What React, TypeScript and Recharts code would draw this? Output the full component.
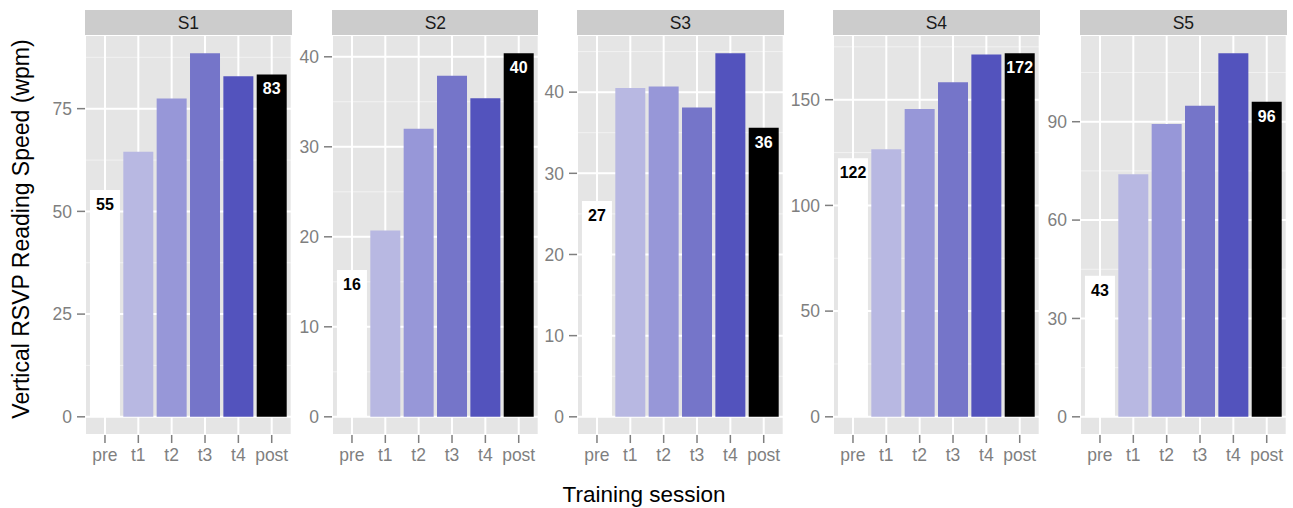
import React from 'react';
import { BarChart, Bar, XAxis, YAxis, CartesianGrid, Cell, LabelList } from 'recharts';

const categories = ['pre', 't1', 't2', 't3', 't4', 'post'];
const subjects = ['S1', 'S2', 'S3', 'S4', 'S5'];

const s1Values = [55.2, 64.5, 77.5, 88.5, 82.9, 83.3];
const s2Values = [16.3, 20.7, 32.0, 37.9, 35.4, 40.4];
const s3Values = [26.6, 40.5, 40.7, 38.1, 44.8, 35.6];
const s4Values = [122.3, 126.6, 145.6, 158.2, 171.4, 172.0];
const s5Values = [43.0, 74.0, 89.3, 94.9, 110.9, 96.1];

const s1Ticks = [0, 25, 50, 75];
const s2Ticks = [0, 10, 20, 30, 40];
const s3Ticks = [0, 10, 20, 30, 40];
const s4Ticks = [0, 50, 100, 150];
const s5Ticks = [0, 30, 60, 90];

const barColors = ['#FFFFFF', '#B8B8E2', '#9797D8', '#7575C9', '#5353BD', '#000000'];

const panelValues = [s1Values, s2Values, s3Values, s4Values, s5Values];
const panelTicks = [s1Ticks, s2Ticks, s3Ticks, s4Ticks, s5Ticks];

// layout
const PANEL_LEFTS = [85, 331.7, 577.3, 833.3, 1080];
const PANEL_W = 206.7;
const PLOT_TOP = 35;
const PLOT_H = 400;
const STRIP_H = 25;
const AXIS_W = 60;
const XAXIS_H = 40;
const FONT = '"Liberation Sans", Arial, Helvetica, sans-serif';

function buildRows(values: number[]) {
  return categories.map((c, i) => ({
    cat: c,
    value: values[i],
    darkLabel: c === 'pre' ? Math.round(values[i]) : undefined,
    lightLabel: c === 'post' ? Math.round(values[i]) : undefined,
  }));
}

function minorTicks(ticks: number[], max: number) {
  const step = ticks[1] - ticks[0];
  const out: number[] = [];
  for (const t of ticks) {
    const m = t + step / 2;
    if (m <= max) out.push(m);
  }
  return out;
}

function Panel({ index }: { index: number }) {
  const values = panelValues[index];
  const ticks = panelTicks[index];
  const rows = buildRows(values);
  const max = Math.max(...values);
  const domain: [number, number] = [-0.05 * max, 1.05 * max];
  const minor = minorTicks(ticks, domain[1]);
  const left = PANEL_LEFTS[index];
  return (
    <>
      <div
        style={{
          position: 'absolute',
          left,
          top: PLOT_TOP - STRIP_H,
          width: PANEL_W,
          height: STRIP_H,
          background: '#CCCCCC',
        }}
      >
        <svg width={PANEL_W} height={STRIP_H} style={{ display: 'block' }}>
          <text x={PANEL_W / 2} y={19.3} textAnchor="middle" fontSize={17.5} fill="#1A1A1A" fontFamily={FONT}>
            {subjects[index]}
          </text>
        </svg>
      </div>
      <div style={{ position: 'absolute', left: left - AXIS_W, top: PLOT_TOP }}>
        <BarChart
          width={AXIS_W + PANEL_W}
          height={PLOT_H + XAXIS_H}
          data={rows}
          margin={{ top: 0, right: 0, bottom: 0, left: 0 }}
          barCategoryGap="5%"
        >
          <CartesianGrid
            fill="#E5E5E5"
            fillOpacity={1}
            stroke="#F2F2F2"
            strokeWidth={1}
            vertical={false}
            horizontalValues={minor}
          />
          <CartesianGrid stroke="#FFFFFF" strokeWidth={2} />
          <XAxis
            dataKey="cat"
            type="category"
            interval={0}
            padding={{ left: 3.3, right: 3.3 }}
            height={XAXIS_H}
            tickSize={8}
            tickMargin={6}
            axisLine={false}
            tickLine={{ stroke: '#7F7F7F', strokeWidth: 1.5 }}
            tick={{ fill: '#7F7F7F', fontSize: 17.5, fontFamily: FONT }}
          />
          <YAxis
            type="number"
            domain={domain}
            allowDataOverflow
            ticks={ticks}
            interval={0}
            width={AXIS_W}
            tickSize={8}
            tickMargin={5}
            axisLine={false}
            tickLine={{ stroke: '#7F7F7F', strokeWidth: 1.5 }}
            tick={{ fill: '#7F7F7F', fontSize: 17.5, fontFamily: FONT }}
          />
          <Bar dataKey="value" isAnimationActive={false}>
            {rows.map((r, i) => (
              <Cell key={r.cat} fill={barColors[i]} />
            ))}
            <LabelList
              dataKey="darkLabel"
              position="insideTop"
              offset={8.5}
              fill="#000000"
              fontSize={16}
              fontWeight="bold"
              fontFamily={FONT}
            />
            <LabelList
              dataKey="lightLabel"
              position="insideTop"
              offset={8.5}
              fill="#FFFFFF"
              fontSize={16}
              fontWeight="bold"
              fontFamily={FONT}
            />
          </Bar>
        </BarChart>
      </div>
    </>
  );
}

export default function App() {
  return (
    <div
      style={{
        position: 'absolute',
        left: 0,
        top: 0,
        width: 1293,
        height: 508,
        background: '#FFFFFF',
        fontFamily: FONT,
        overflow: 'hidden',
      }}
    >
      <svg width={1293} height={508} style={{ position: 'absolute', left: 0, top: 0 }}>
        <text
          transform="rotate(-90)"
          x={-229}
          y={29}
          textAnchor="middle"
          fontSize={23}
          fill="#000000"
          fontFamily={FONT}
        >
          Vertical RSVP Reading Speed (wpm)
        </text>
        <text x={644} y={501.5} textAnchor="middle" fontSize={22.5} fill="#000000" fontFamily={FONT}>
          Training session
        </text>
      </svg>
      {subjects.map((s, i) => (
        <Panel key={s} index={i} />
      ))}
    </div>
  );
}
